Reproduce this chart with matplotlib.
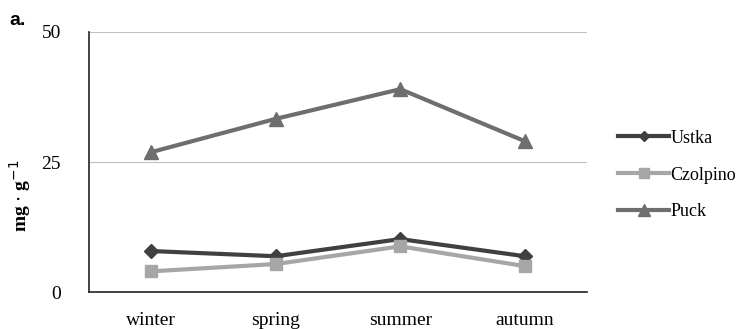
import numpy as np
import matplotlib.pyplot as plt

seasons = ["winter", "spring", "summer", "autumn"]
ustka = [7.9, 6.9, 10.2, 6.9]
czolpino = [4.0, 5.4, 8.8, 5.0]
puck = [26.9, 33.3, 39.0, 29.0]

plt.rcParams['font.family'] = ['Liberation Serif', 'DejaVu Serif']

fig = plt.figure(figsize=(7.47, 3.29), dpi=100)
ax = fig.add_axes([0.119, 0.112, 0.667, 0.791])

x = np.arange(len(seasons))
ax.plot(x, ustka, color='#404040', lw=3, marker='D', ms=7, label='Ustka')
ax.plot(x, czolpino, color='#a6a6a6', lw=3, marker='s', ms=9, label='Czolpino')
ax.plot(x, puck, color='#6e6e6e', lw=3, marker='^', ms=10, label='Puck')

ax.set_xlim(-0.5, 3.5)
ax.set_ylim(0, 50)
ax.set_yticks([0, 25, 50])
ax.set_xticks(x)
ax.set_xticklabels(seasons)
ax.tick_params(length=0, labelsize=14, pad=14)
ax.tick_params(axis='y', pad=20)
ax.yaxis.grid(True, color='#c0c0c0', lw=0.8)
ax.set_axisbelow(True)
for s in ['top', 'right']:
    ax.spines[s].set_visible(False)
ax.spines['left'].set_color('#222222')
ax.spines['bottom'].set_color('#222222')
ax.spines['left'].set_linewidth(1.2)
ax.spines['bottom'].set_linewidth(1.2)

ax.set_ylabel(r'mg $\cdot$ g$^{-1}$', fontsize=14, fontweight='bold')
ax.yaxis.set_label_coords(-0.112, 0.37)

ax.legend(loc='center left', bbox_to_anchor=(1.03, 0.45), frameon=False,
          fontsize=13, labelspacing=1.1, handlelength=2.8, handletextpad=0.1,
          markerscale=0.8)

fig.text(0.012, 0.925, 'a.', fontsize=14, fontweight='bold', family='Liberation Sans')

fig.savefig('out.png', dpi=100)
